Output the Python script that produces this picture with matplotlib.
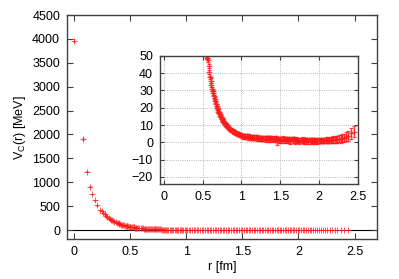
import numpy as np
import matplotlib
matplotlib.use("Agg")
import matplotlib.pyplot as plt

plt.rcParams["font.family"] = ["Liberation Sans", "DejaVu Sans"]
plt.rcParams["font.size"] = 9

# short distances (only visible in the big panel)
r_near = [0.0, 0.083, 0.117, 0.144, 0.166, 0.186, 0.203, 0.235, 0.249, 0.262,
          0.275, 0.287, 0.299, 0.311, 0.322, 0.332, 0.342, 0.352, 0.362, 0.372,
          0.381, 0.390, 0.399, 0.407, 0.415, 0.423, 0.431, 0.440, 0.447, 0.455,
          0.463, 0.470, 0.477, 0.484, 0.491, 0.498, 0.505, 0.512, 0.518, 0.525,
          0.532, 0.538, 0.545, 0.551, 0.557]
v_near = [3960, 1905, 1220, 906, 753, 621, 516, 420, 397, 362,
          330, 302, 278, 256, 237, 220, 205, 191, 178, 166,
          156, 146, 137, 129, 121, 114, 107, 101, 96, 91,
          86, 82, 78, 74, 71, 68, 65, 62, 60, 57,
          55, 53, 51, 50, 49]
e_near = [30, 20, 14, 11, 9, 8, 7, 6, 6, 5,
          5, 4, 4, 4, 3, 3, 3, 3, 3, 2,
          2, 2, 2, 2, 2, 2, 2, 1.5, 1.5, 1.5,
          1.5, 1.5, 1.5, 1.2, 1.2, 1.2, 1.2, 1.2, 1.0, 1.0,
          1.0, 1.0, 1.0, 1.0, 1.0]

# steep part seen in the inset
r_mid = [0.565, 0.575, 0.585, 0.595, 0.604, 0.613, 0.622, 0.630, 0.638, 0.647,
         0.655, 0.663, 0.671, 0.679, 0.687, 0.695, 0.703, 0.711, 0.719, 0.727,
         0.735, 0.743, 0.751, 0.759, 0.767, 0.775, 0.783, 0.791, 0.799, 0.810,
         0.821, 0.832, 0.843, 0.854, 0.865, 0.876, 0.887, 0.898, 0.909, 0.920,
         0.931, 0.942, 0.953, 0.964, 0.975, 0.986, 0.997]
v_mid = [47.7, 44.0, 40.5, 37.5, 35.7, 33.0, 30.8, 29.5, 28.4, 26.5,
         25.0, 23.6, 22.3, 21.1, 20.0, 19.0, 17.8, 17.0, 16.2, 15.3,
         14.6, 13.9, 13.2, 12.6, 12.0, 11.5, 11.0, 10.5, 10.1, 9.5,
         9.0, 8.4, 8.0, 7.6, 7.2, 6.8, 6.5, 6.2, 5.9, 5.6,
         5.3, 5.1, 4.9, 4.6, 4.4, 4.2, 4.0]
e_mid = [1.2, 1.0, 1.2, 1.0, 1.2, 1.0, 1.2, 1.0, 1.2, 1.0,
         1.1, 0.9, 1.1, 0.9, 1.1, 0.9, 1.1, 0.9, 1.1, 0.9,
         1.0, 0.9, 1.0, 0.9, 1.0, 0.9, 1.0, 0.9, 1.0, 0.9,
         1.0, 0.9, 1.0, 0.9, 1.0, 0.9, 1.0, 0.9, 1.0, 0.9,
         1.0, 0.9, 1.0, 0.9, 1.0, 0.9, 1.0]

# flat tail
r_far = [1.008, 1.022, 1.037, 1.051, 1.066, 1.080, 1.095, 1.109, 1.124, 1.138,
         1.153, 1.167, 1.182, 1.196, 1.211, 1.225, 1.240, 1.254, 1.269, 1.283,
         1.298, 1.312, 1.327, 1.341, 1.356, 1.370, 1.385, 1.399, 1.414, 1.428,
         1.443, 1.457, 1.472, 1.486, 1.501, 1.515, 1.530, 1.544, 1.559, 1.573,
         1.588, 1.602, 1.617, 1.631, 1.646, 1.660, 1.675, 1.689, 1.704, 1.718,
         1.733, 1.747, 1.762, 1.776, 1.791, 1.805, 1.820, 1.834, 1.849, 1.863,
         1.878, 1.892, 1.907, 1.921, 1.936, 1.950, 1.965, 1.979, 1.994,
         2.009, 2.024, 2.039, 2.054, 2.069, 2.085, 2.100, 2.116, 2.132, 2.148,
         2.165, 2.182, 2.199, 2.217, 2.236, 2.256, 2.277, 2.299, 2.322, 2.347,
         2.375, 2.410, 2.445]
v_far = [3.9, 3.6, 3.8, 3.3, 3.5, 3.1, 3.4, 2.9, 3.2, 2.7,
         3.0, 2.6, 2.9, 2.4, 2.8, 2.3, 2.7, 2.2, 2.6, 2.1,
         2.5, 2.0, 2.4, 1.9, 2.6, 1.8, 2.3, 1.7, 2.2, 1.6,
         2.4, 0.9, 2.1, 1.5, 2.0, 1.2, 2.2, 1.4, 1.9, 1.1,
         2.0, 1.3, 1.8, 0.9, 1.7, 1.2, 1.9, 0.8, 1.6, 1.1,
         1.5, 0.7, 1.4, 1.0, 1.6, 0.6, 1.3, 0.9, 1.2, 0.5,
         1.4, 0.8, 1.1, 0.6, 1.2, 0.7, 1.0, 0.5, 1.1,
         0.9, 1.2, 0.7, 1.1, 0.8, 1.3, 0.9, 1.4, 1.0, 1.5,
         1.2, 1.7, 1.4, 1.9, 1.6, 2.2, 2.0, 2.6, 2.5, 3.2,
         3.8, 5.2, 6.0]
e_far = [1.1, 1.5, 1.1, 1.5, 1.1, 1.5, 1.1, 1.5, 1.1, 1.5,
         1.1, 1.5, 1.1, 1.5, 1.1, 1.5, 1.1, 1.5, 1.1, 1.5,
         1.2, 1.6, 1.2, 1.6, 1.2, 1.6, 1.2, 1.6, 1.2, 1.6,
         1.2, 2.2, 1.2, 1.6, 1.2, 1.6, 1.2, 1.6, 1.2, 1.6,
         1.2, 1.6, 1.2, 1.6, 1.2, 1.6, 1.2, 1.6, 1.2, 1.6,
         1.2, 1.6, 1.2, 1.6, 1.2, 1.6, 1.2, 1.6, 1.2, 1.6,
         1.3, 1.6, 1.3, 1.6, 1.3, 1.6, 1.3, 1.6, 1.3,
         1.2, 1.3, 1.3, 1.4, 1.4, 1.5, 1.5, 1.6, 1.6, 1.7,
         1.7, 1.8, 1.9, 2.0, 2.1, 2.2, 2.3, 2.4, 2.5, 2.6,
         2.8, 3.0, 3.2]

r = np.array(r_near + r_mid + r_far)
v = np.array(v_near + v_mid + v_far)
err = np.array(e_near + e_mid + e_far)

edge = "#404040"
red = "#ff1a1a"

fig = plt.figure(figsize=(3.99, 2.79), dpi=100)
ax = fig.add_axes([0.168, 0.143, 0.777, 0.803])
ax.axhline(0, color="black", lw=0.8, zorder=1)
ax.errorbar(r, v, yerr=err, fmt="+", color=red, ms=4, mew=0.7,
            elinewidth=0.7, capsize=1, alpha=0.75, zorder=2)
ax.set_xlim(-0.06, 2.7)
ax.set_ylim(-190, 4500)
ax.set_xticks([0, 0.5, 1, 1.5, 2, 2.5])
ax.set_xticklabels(["0", "0.5", "1", "1.5", "2", "2.5"])
ax.set_yticks(np.arange(0, 4501, 500))
ax.set_xlabel("r [fm]", labelpad=2)
ax.set_ylabel("V$_\\mathregular{C}$(r) [MeV]", labelpad=3)
ax.tick_params(direction="in", length=4, width=0.8, top=True, right=True,
               color=edge, pad=5)
for s in ax.spines.values():
    s.set_color(edge)
    s.set_linewidth(1.0)

ins = fig.add_axes([0.401, 0.341, 0.496, 0.459])
ins.errorbar(r, v, yerr=err, fmt="+", color=red, ms=4.5, mew=0.9,
             elinewidth=1.0, capsize=1.2, alpha=0.8, zorder=2)
ins.set_xlim(-0.05, 2.5)
ins.set_ylim(-24, 50)
ins.set_xticks([0, 0.5, 1, 1.5, 2, 2.5])
ins.set_xticklabels(["0", "0.5", "1", "1.5", "2", "2.5"])
ins.set_yticks(np.arange(-20, 51, 10))
ins.grid(True, ls=":", color="#a0a0a0", lw=0.6)
ins.set_axisbelow(True)
ins.tick_params(direction="in", length=3, width=0.8, top=True, right=True,
                color=edge, pad=5)
for s in ins.spines.values():
    s.set_color(edge)
    s.set_linewidth(1.0)

fig.savefig("out.png", dpi=100)
